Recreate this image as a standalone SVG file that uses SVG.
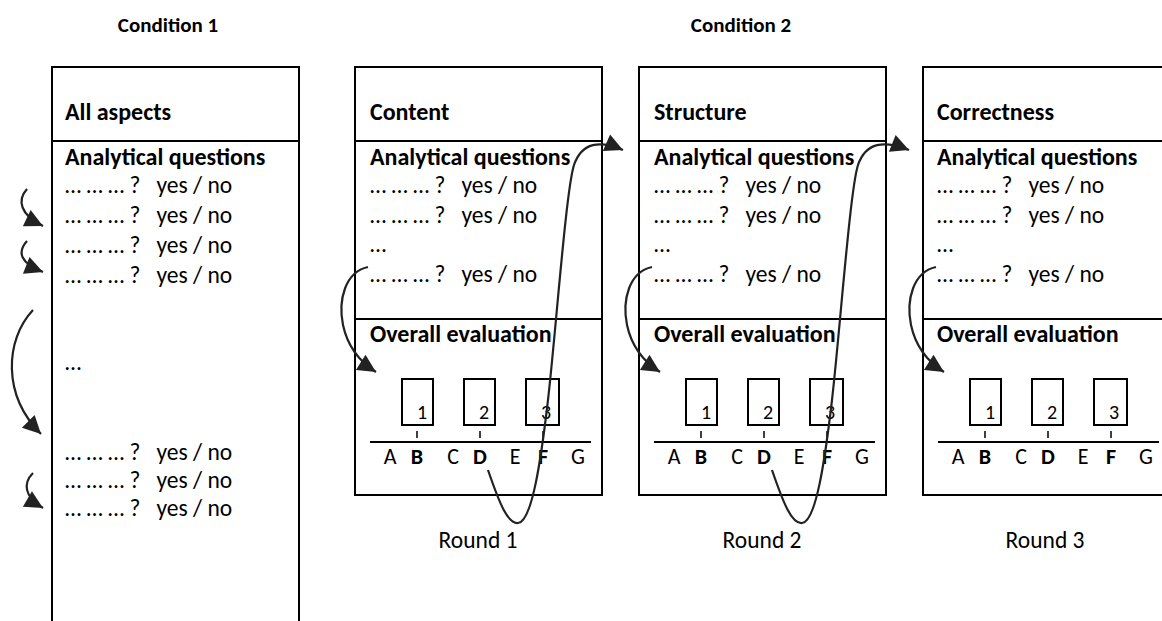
<svg xmlns="http://www.w3.org/2000/svg" width="1162" height="621" viewBox="0 0 1162 621" xml:space="preserve">
  <style>
    text { font-family: Carlito, Lato, "Liberation Sans", sans-serif; fill: #000; white-space: pre; }
    .title { font-size: 21px; font-weight: bold; text-anchor: middle; }
    .head { font-size: 24px; font-weight: bold; }
    .row { font-size: 23.5px; }
    .scale { font-size: 22px; text-anchor: middle; }
    .b { font-weight: bold; }
    .num { font-size: 20px; text-anchor: middle; }
    .round { font-size: 23.5px; text-anchor: middle; }
    .frame { fill: none; stroke: #000; stroke-width: 2; }
    .thin { fill: none; stroke: #000; stroke-width: 1.5; }
    .conn { fill: none; stroke: #222; stroke-width: 2.2; marker-end: url(#head); }
  </style>
  <defs>
    <marker id="head" markerUnits="userSpaceOnUse" markerWidth="24" markerHeight="24" viewBox="0 0 24 24" refX="20" refY="12" orient="auto">
      <path d="M2,3 L20,12 L2,21 Z" fill="#222"/>
    </marker>
    <!-- one overall-evaluation scale, placed per round -->
    <g id="scale">
      <rect class="frame" x="47" y="312" width="31" height="46"/>
      <rect class="frame" x="109" y="312" width="31" height="46"/>
      <rect class="frame" x="171" y="312" width="33" height="46"/>
      <text class="num" x="67" y="352">1</text>
      <text class="num" x="129" y="352">2</text>
      <text class="num" x="191" y="352">3</text>
      <path class="thin" d="M62,364 V371 M125,364 V371 M188,364 V371"/>
      <line x1="15" y1="375" x2="236" y2="375" stroke="#000" stroke-width="2"/>
      <text class="scale" x="35" y="397">A</text>
      <text class="scale b" x="62" y="397">B</text>
      <text class="scale" x="98" y="397">C</text>
      <text class="scale b" x="125" y="397">D</text>
      <text class="scale" x="160" y="397">E</text>
      <text class="scale b" x="188" y="397">F</text>
      <text class="scale" x="223" y="397">G</text>
    </g>
  </defs>

  <rect width="1162" height="621" fill="#fff"/>

  <text class="title" x="168" y="32">Condition 1</text>
  <text class="title" x="741" y="32">Condition 2</text>

  <!-- Condition 1: single form covering all aspects -->
  <g id="all-aspects">
    <rect class="frame" x="52" y="67" width="247" height="580"/>
    <line x1="52" y1="141" x2="299" y2="141" stroke="#000" stroke-width="2"/>
    <text class="head" x="65" y="120">All aspects</text>
    <text class="head" x="65" y="165">Analytical questions</text>
    <text class="row" x="65" y="193">… … … ?   yes / no</text>
    <text class="row" x="65" y="223">… … … ?   yes / no</text>
    <text class="row" x="65" y="253">… … … ?   yes / no</text>
    <text class="row" x="65" y="283">… … … ?   yes / no</text>
    <text class="row" x="65" y="370">…</text>
    <text class="row" x="65" y="460">… … … ?   yes / no</text>
    <text class="row" x="65" y="488">… … … ?   yes / no</text>
    <text class="row" x="65" y="516">… … … ?   yes / no</text>
  </g>

  <!-- Condition 2, round 1 -->
  <g id="content">
    <rect class="frame" x="355" y="67" width="247" height="428"/>
    <line x1="355" y1="141" x2="602" y2="141" stroke="#000" stroke-width="2"/>
    <line x1="355" y1="319" x2="602" y2="319" stroke="#000" stroke-width="2"/>
    <text class="head" x="370" y="120">Content</text>
    <text class="head" x="370" y="165">Analytical questions</text>
    <text class="row" x="370" y="193">… … … ?   yes / no</text>
    <text class="row" x="370" y="223">… … … ?   yes / no</text>
    <text class="row" x="370" y="252">…</text>
    <text class="row" x="370" y="282">… … … ?   yes / no</text>
    <text class="head" x="370" y="342">Overall evaluation</text>
    <use href="#scale" x="355" y="67"/>
    <text class="round" x="478" y="548">Round 1</text>
  </g>

  <!-- Condition 2, round 2 -->
  <g id="structure">
    <rect class="frame" x="639" y="67" width="247" height="428"/>
    <line x1="639" y1="141" x2="886" y2="141" stroke="#000" stroke-width="2"/>
    <line x1="639" y1="319" x2="886" y2="319" stroke="#000" stroke-width="2"/>
    <text class="head" x="654" y="120">Structure</text>
    <text class="head" x="654" y="165">Analytical questions</text>
    <text class="row" x="654" y="193">… … … ?   yes / no</text>
    <text class="row" x="654" y="223">… … … ?   yes / no</text>
    <text class="row" x="654" y="252">…</text>
    <text class="row" x="654" y="282">… … … ?   yes / no</text>
    <text class="head" x="654" y="342">Overall evaluation</text>
    <use href="#scale" x="639" y="67"/>
    <text class="round" x="762" y="548">Round 2</text>
  </g>

  <!-- Condition 2, round 3 -->
  <g id="correctness">
    <rect class="frame" x="923" y="67" width="260" height="428"/>
    <line x1="923" y1="141" x2="1183" y2="141" stroke="#000" stroke-width="2"/>
    <line x1="923" y1="319" x2="1183" y2="319" stroke="#000" stroke-width="2"/>
    <text class="head" x="937" y="120">Correctness</text>
    <text class="head" x="937" y="165">Analytical questions</text>
    <text class="row" x="937" y="193">… … … ?   yes / no</text>
    <text class="row" x="937" y="223">… … … ?   yes / no</text>
    <text class="row" x="937" y="252">…</text>
    <text class="row" x="937" y="282">… … … ?   yes / no</text>
    <text class="head" x="937" y="342">Overall evaluation</text>
    <use href="#scale" x="923" y="67"/>
    <text class="round" x="1045" y="548">Round 3</text>
  </g>

  <g id="connectors">
    <!-- Condition 1: hops between questions -->
    <path class="conn" d="M27,189 C17,200 20,215 43,226"/>
    <path class="conn" d="M27,241 C17,252 20,263 43,272"/>
    <path class="conn" d="M33,310 C5,340 2,395 41,434"/>
    <path class="conn" d="M33,473 C23,483 24,497 43,508"/>
    <!-- Condition 2: last question to overall evaluation -->
    <path class="conn" d="M368,267 C345,272 338,300 343,325 C348,348 360,362 376,372"/>
    <path class="conn" d="M652,267 C629,272 622,300 627,325 C632,348 644,362 660,372"/>
    <path class="conn" d="M936,267 C913,272 906,300 911,325 C916,348 928,362 944,372"/>
    <!-- Condition 2: loop from the scale to the next round -->
    <path class="conn" d="M488,470 C500,505 508,524 518,523 C532,522 541,460 548,400 C556,330 566,190 574,165 C582,142 600,140 623,150"/>
    <path class="conn" d="M772,470 C784,505 792,524 802,523 C816,522 825,460 832,400 C840,330 850,190 858,165 C866,142 884,140 909,150"/>
  </g>
</svg>
